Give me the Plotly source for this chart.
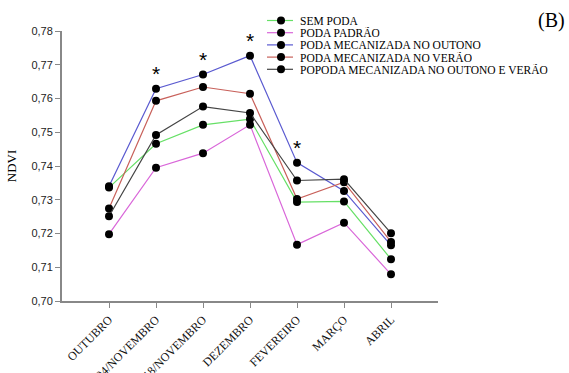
import plotly.graph_objects as go

months = ["OUTUBRO", "04/NOVEMBRO", "18/NOVEMBRO", "DEZEMBRO", "FEVEREIRO", "MARÇO", "ABRIL"]

sem_poda = [0.7336, 0.7466, 0.7522, 0.7539, 0.7293, 0.7295, 0.7124]
poda_padrao = [0.7198, 0.7395, 0.7438, 0.7522, 0.7167, 0.7232, 0.7079]
mec_outono = [0.7340, 0.7629, 0.7671, 0.7727, 0.7410, 0.7326, 0.7165]
mec_verao = [0.7274, 0.7593, 0.7634, 0.7614, 0.7302, 0.7352, 0.7175]
mec_outono_verao = [0.7251, 0.7492, 0.7576, 0.7557, 0.7357, 0.7361, 0.7201]

series = [
    ("SEM PODA", sem_poda, "#66e066"),
    ("PODA PADRÃO", poda_padrao, "#d966d9"),
    ("PODA MECANIZADA NO OUTONO", mec_outono, "#5a5ad0"),
    ("PODA MECANIZADA NO VERÃO", mec_verao, "#c8605a"),
    ("POPODA MECANIZADA NO OUTONO E VERÃO", mec_outono_verao, "#444444"),
]

# months flagged as significantly different
significant = ["04/NOVEMBRO", "18/NOVEMBRO", "DEZEMBRO", "FEVEREIRO"]

SERIF = "Liberation Serif, Times New Roman, serif"
SANS = "Liberation Sans, Arial, sans-serif"

W, H = 569, 373
ML, MR, MT, MB = 62, 131, 31, 72
PW, PH = W - ML - MR, H - MT - MB


def px_x(x):
    return (x - ML) / PW


def px_y(y):
    return 1 - (y - MT) / PH


fig = go.Figure()
for name, vals, color in series:
    fig.add_trace(go.Scatter(
        x=months, y=vals, name=name, mode="lines+markers",
        line=dict(color=color, width=1.2),
        marker=dict(color="black", size=8),
        showlegend=False,
    ))

for m in significant:
    i = months.index(m)
    top = max(s[1][i] for s in series)
    fig.add_annotation(x=m, y=top, text="*", showarrow=False, yshift=15,
                       font=dict(family=SANS, size=21, color="black"))

# compact legend: line + dot symbol and label per series
leg_x0, leg_x1, leg_dot, leg_text = 267, 293, 281, 299
leg_y0, leg_step = 20.5, 12.2
shapes = []
for k, (name, vals, color) in enumerate(series):
    yy = leg_y0 + k * leg_step
    shapes.append(dict(type="line", xref="paper", yref="paper",
                       x0=px_x(leg_x0), x1=px_x(leg_x1), y0=px_y(yy), y1=px_y(yy),
                       line=dict(color=color, width=1.2)))
    shapes.append(dict(type="circle", xref="paper", yref="paper",
                       x0=px_x(leg_dot - 4), x1=px_x(leg_dot + 4),
                       y0=px_y(yy + 4), y1=px_y(yy - 4),
                       fillcolor="black", line=dict(color="black", width=0)))
    fig.add_annotation(xref="paper", yref="paper", x=px_x(leg_text), y=px_y(yy),
                       text=name, showarrow=False, xanchor="left", yanchor="middle",
                       height=11, borderpad=0,
                       font=dict(family=SERIF, size=11.5, color="black"))

fig.add_annotation(xref="paper", yref="paper", x=px_x(567), y=px_y(7), text="(B)",
                   showarrow=False, xanchor="right", yanchor="top",
                   font=dict(family=SERIF, size=20, color="black"))

axis_common = dict(showline=True, linecolor="#888888", linewidth=2, ticks="outside",
                   ticklen=5, tickcolor="#888888", tickwidth=1, showgrid=False,
                   zeroline=False, automargin=False)

fig.update_layout(
    width=W, height=H,
    margin=dict(l=ML, r=MR, t=MT, b=MB),
    plot_bgcolor="white", paper_bgcolor="white",
    separators=",.",
    showlegend=False,
    shapes=shapes,
    xaxis=dict(type="category", range=[-1, 7], tickangle=-45,
               tickfont=dict(family=SERIF, size=12, color="#111111"),
               **axis_common),
    yaxis=dict(range=[0.70, 0.78], dtick=0.01, tickformat=".2f",
               tickfont=dict(family=SANS, size=11, color="#222222"),
               title=dict(text="NDVI", standoff=12,
                          font=dict(family=SERIF, size=13, color="black")),
               **axis_common),
)

fig.write_html("out.html")
